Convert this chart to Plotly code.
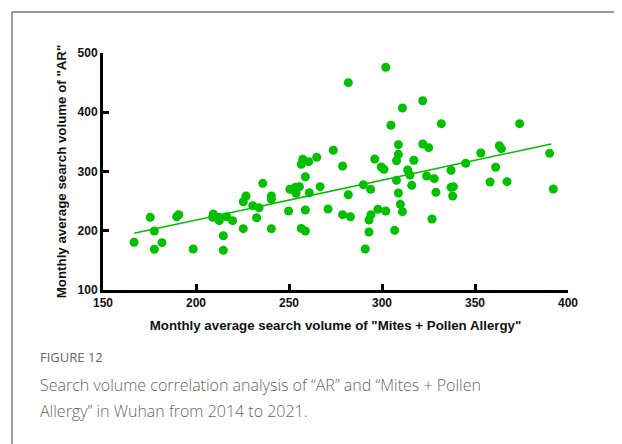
import plotly.graph_objects as go

# Monthly average search volume, "Mites + Pollen Allergy" (x) vs "AR" (y)
mites_pollen = [
    166.7, 175.4, 177.6, 177.6, 181.7, 189.6, 190.7, 198.5, 209.3, 209.0,
    212.5, 212.5, 214.7, 214.7, 216.5, 219.7, 225.4, 225.4, 226.9, 230.5,
    232.6, 233.9, 235.9, 240.5, 240.5, 240.5, 249.8, 250.5, 253.4, 253.8,
    255.6, 256.6, 258.8, 258.8, 258.8, 256.6, 257.4, 260.6, 260.9, 264.9,
    266.7, 273.8, 278.8, 281.9, 281.9, 271.0, 278.8, 283.0, 290.0, 293.9,
    291.0, 293.0, 293.0, 294.1, 297.8, 302.0, 296.1, 299.6, 301.1, 302.0,
    304.8, 306.8, 307.8, 308.8, 308.8, 307.8, 308.8, 309.9, 311.0, 311.0,
    313.8, 315.0, 316.0, 317.1, 321.9, 321.9, 325.1, 324.0, 328.1, 329.0,
    326.9, 331.9, 337.1, 337.1, 338.4, 338.0, 345.0, 353.1, 358.1, 361.1,
    363.1, 364.2, 367.2, 374.0, 390.1, 392.1,
]
ar_volume = [
    180.5, 222.7, 199.6, 168.7, 179.9, 223.7, 227.0, 169.2, 228.3, 222.7,
    222.7, 217.0, 191.6, 167.0, 223.7, 217.0, 203.5, 249.0, 258.6, 242.3,
    222.0, 238.9, 280.0, 203.5, 258.6, 253.0, 233.3, 270.0, 273.3, 263.2,
    274.4, 204.0, 199.6, 235.0, 291.2, 312.2, 320.6, 316.6, 264.2, 324.0,
    274.4, 335.8, 309.3, 449.9, 260.8, 236.7, 227.1, 223.7, 277.7, 269.9,
    169.2, 197.9, 218.1, 227.1, 236.2, 233.3, 321.1, 307.6, 303.7, 475.9,
    378.0, 200.7, 318.2, 329.0, 345.3, 285.1, 263.7, 244.6, 232.2, 407.2,
    302.5, 294.1, 276.7, 318.9, 419.5, 346.4, 340.2, 292.4, 287.9, 264.9,
    219.8, 380.7, 302.0, 273.3, 274.4, 258.6, 313.9, 331.2, 282.3, 307.1,
    343.5, 338.5, 282.8, 380.7, 330.7, 270.5,
]

# fitted regression line end points
fit_x = [166.7, 391.0]
fit_y = [195.7, 346.4]

x_ticks = [150, 200, 250, 300, 350, 400]
y_ticks = [100, 200, 300, 400, 500]

green = "#00c000"
caption_gray = "#666666"

fig = go.Figure()

fig.add_trace(
    go.Scatter(
        x=mites_pollen,
        y=ar_volume,
        mode="markers",
        marker=dict(color=green, size=9, line=dict(width=0)),
        showlegend=False,
        cliponaxis=False,
    )
)

fig.add_trace(
    go.Scatter(
        x=fit_x,
        y=fit_y,
        mode="lines",
        line=dict(color=green, width=1.5),
        showlegend=False,
    )
)

tick_font = dict(family="Liberation Sans, Arial, sans-serif", size=12, color="#111111", weight="bold")
title_font = dict(family="Liberation Sans, Arial, sans-serif", size=13.3, color="#111111", weight="bold")

fig.update_layout(
    width=614,
    height=436,
    paper_bgcolor="white",
    plot_bgcolor="white",
    margin={"l": 95, "r": 54, "t": 45, "b": 154},
    xaxis=dict(
        range=[150, 400],
        tickvals=x_ticks,
        ticks="inside",
        ticklen=6,
        tickwidth=3,
        tickcolor="black",
        showline=True,
        linewidth=3,
        linecolor="black",
        showgrid=False,
        zeroline=False,
        automargin=False,
        tickfont=tick_font,
        title=dict(
            text='Monthly average search volume of "Mites + Pollen Allergy"',
            font=title_font,
            standoff=12,
        ),
    ),
    yaxis=dict(
        range=[100, 500],
        tickvals=y_ticks,
        ticks="inside",
        ticklen=6,
        tickwidth=3,
        tickcolor="black",
        showline=True,
        linewidth=3,
        linecolor="black",
        showgrid=False,
        zeroline=False,
        automargin=False,
        tickfont=tick_font,
        title=dict(
            text='Monthly average search volume of "AR"',
            font=title_font,
            standoff=8,
        ),
    ),
)

# figure panel frame (left and top edges)
frame = dict(color="#7a7a7a", width=1.5)
fig.add_shape(type="line", xref="paper", yref="paper", x0=-0.1957, x1=-0.1957, y0=-0.7, y1=1.173, line=frame)
fig.add_shape(type="line", xref="paper", yref="paper", x0=-0.1957, x1=1.2, y0=1.173, y1=1.173, line=frame)

caption_font = dict(family="Open Sans, Lato, sans-serif", color=caption_gray)
fig.add_annotation(
    text="FIGURE 12",
    xref="paper", yref="paper", x=-0.1398, y=-0.2827,
    xanchor="left", yanchor="middle", showarrow=False,
    font=dict(caption_font, size=13),
)
fig.add_annotation(
    text="Search volume correlation analysis of “AR” and “Mites + Pollen",
    xref="paper", yref="paper", x=-0.1398, y=-0.4008,
    xanchor="left", yanchor="middle", showarrow=False,
    font=dict(caption_font, size=16, weight=300),
)
fig.add_annotation(
    text="Allergy” in Wuhan from 2014 to 2021.",
    xref="paper", yref="paper", x=-0.1398, y=-0.5105,
    xanchor="left", yanchor="middle", showarrow=False,
    font=dict(caption_font, size=16, weight=300),
)

fig.write_html("out.html")
